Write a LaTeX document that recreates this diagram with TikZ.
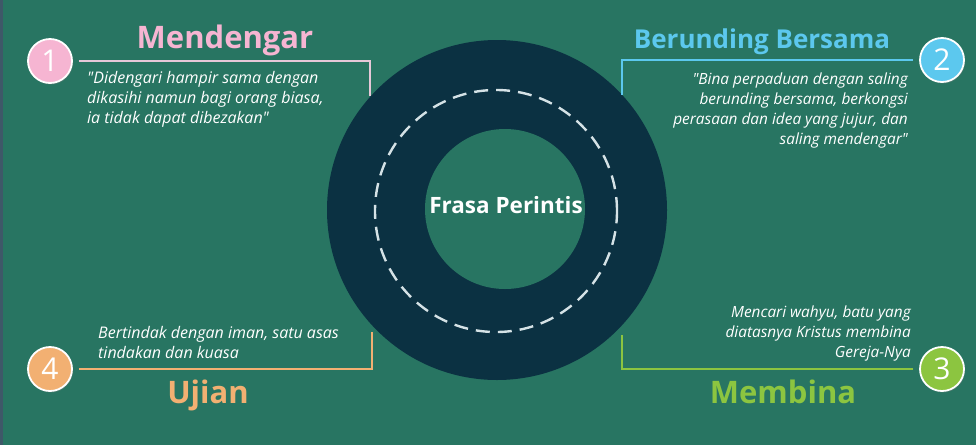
\documentclass[tikz,border=0pt]{standalone}
\usepackage{fontspec}
\setmainfont{Open Sans}[Ligatures=TeXOff]
\usepackage{tikz}
\usetikzlibrary{positioning, shadows}
\definecolor{bggreen}{HTML}{287562}
\definecolor{edgegray}{HTML}{3E5868}
\definecolor{ringblue}{HTML}{0B3142}
\definecolor{dashgray}{HTML}{D5E2E6}
\definecolor{pinkc}{HTML}{F6B5D2}
\definecolor{pinkl}{HTML}{E6C8D8}
\definecolor{bluec}{HTML}{5CC8EE}
\definecolor{greenc}{HTML}{8CC540}
\definecolor{orangec}{HTML}{F2B072}
\tikzset{
    x=1pt, y=-1pt, % pixel coordinates, origin top left
    numcircle/.style={circle, draw=white, line width=1.8pt, minimum size=44pt,
        inner sep=0pt, text=white, font=\fontsize{30}{30}\selectfont,
        drop shadow={opacity=0.35, shadow xshift=1pt, shadow yshift=-1.5pt}},
    title/.style={font=\bfseries\fontsize{31}{31}\selectfont, anchor=base},
    body/.style={text=white, font=\itshape\fontsize{15.4}{20}\selectfont, inner sep=0pt},
    bigbody/.style={body, font=\itshape\fontsize{16}{20}\selectfont},
    bracket/.style={line width=2.4pt, shorten <=6pt}, % lines from the numbers
}

\begin{document}
\begin{tikzpicture}
    \useasboundingbox (0,0) rectangle (976,445);
    \fill[bggreen] (0,0) rectangle (976,445);
    \fill[edgegray] (0,0) rectangle (3,445);

    % ring in the middle
    \fill[ringblue] (497,210) circle[radius=170pt];
    \fill[bggreen] (505,209) circle[radius=80pt];
    \draw[dashgray, line width=2.4pt, dash pattern=on 14pt off 8pt] (496,211) circle[radius=121pt];
    \node[font=\bfseries\fontsize{22.5}{22.5}\selectfont, text=white, anchor=base] (hub) at (506,213) {Frasa Perintis};

    % numbers
    \node[numcircle, fill=pinkc] (n1) at (50,61) {1};
    \node[numcircle, fill=bluec] (n2) at (942,60) {2};
    \node[numcircle, fill=greenc] (n3) at (942,369) {3};
    \node[numcircle, fill=orangec] (n4) at (50,369) {4};

    % brackets
    \coordinate (k1) at (370,61);
    \coordinate (e1) at (370,96);
    \coordinate (k2) at (622,60);
    \coordinate (e2) at (622,95);
    \coordinate (k3) at (622,369);
    \coordinate (e3) at (622,335);
    \coordinate (k4) at (372,369);
    \coordinate (e4) at (372,332);
    \draw[bracket, pinkl] (n1) -- (k1) -- (e1);
    \draw[bracket, bluec] (n2) -- (k2) -- (e2);
    \draw[bracket, greenc] (n3) -- (k3) -- (e3);
    \draw[bracket, orangec] (n4) -- (k4) -- (e4);

    % titles
    \node[title, text=pinkc] (t1) at (225,48) {Mendengar};
    \node[title, text=bluec, font=\bfseries\fontsize{26}{26}\selectfont] (t2) at (762,48) {Berunding Bersama};
    \node[title, text=greenc] (t3) at (783,403) {Membina};
    \node[title, text=orangec] (t4) at (208,403) {Ujian};

    % texts
    \node[bigbody, anchor=north west, align=left] (b1) at (87,71)
        {"Didengari hampir sama dengan\\dikasihi namun bagi orang biasa,\\ia tidak dapat dibezakan"};
    \node[body, anchor=north east, align=right] (b2) at (908,73)
        {"Bina perpaduan dengan saling\\berunding bersama, berkongsi\\perasaan dan idea yang jujur, dan\\saling mendengar"};
    \node[body, anchor=north east, align=right] (b3) at (911,306)
        {Mencari wahyu, batu yang\\diatasnya Kristus membina\\Gereja-Nya};
    \node[bigbody, anchor=north west, align=left] (b4) at (98,326)
        {Bertindak dengan iman, satu asas\\tindakan dan kuasa};
\end{tikzpicture}
\end{document}
